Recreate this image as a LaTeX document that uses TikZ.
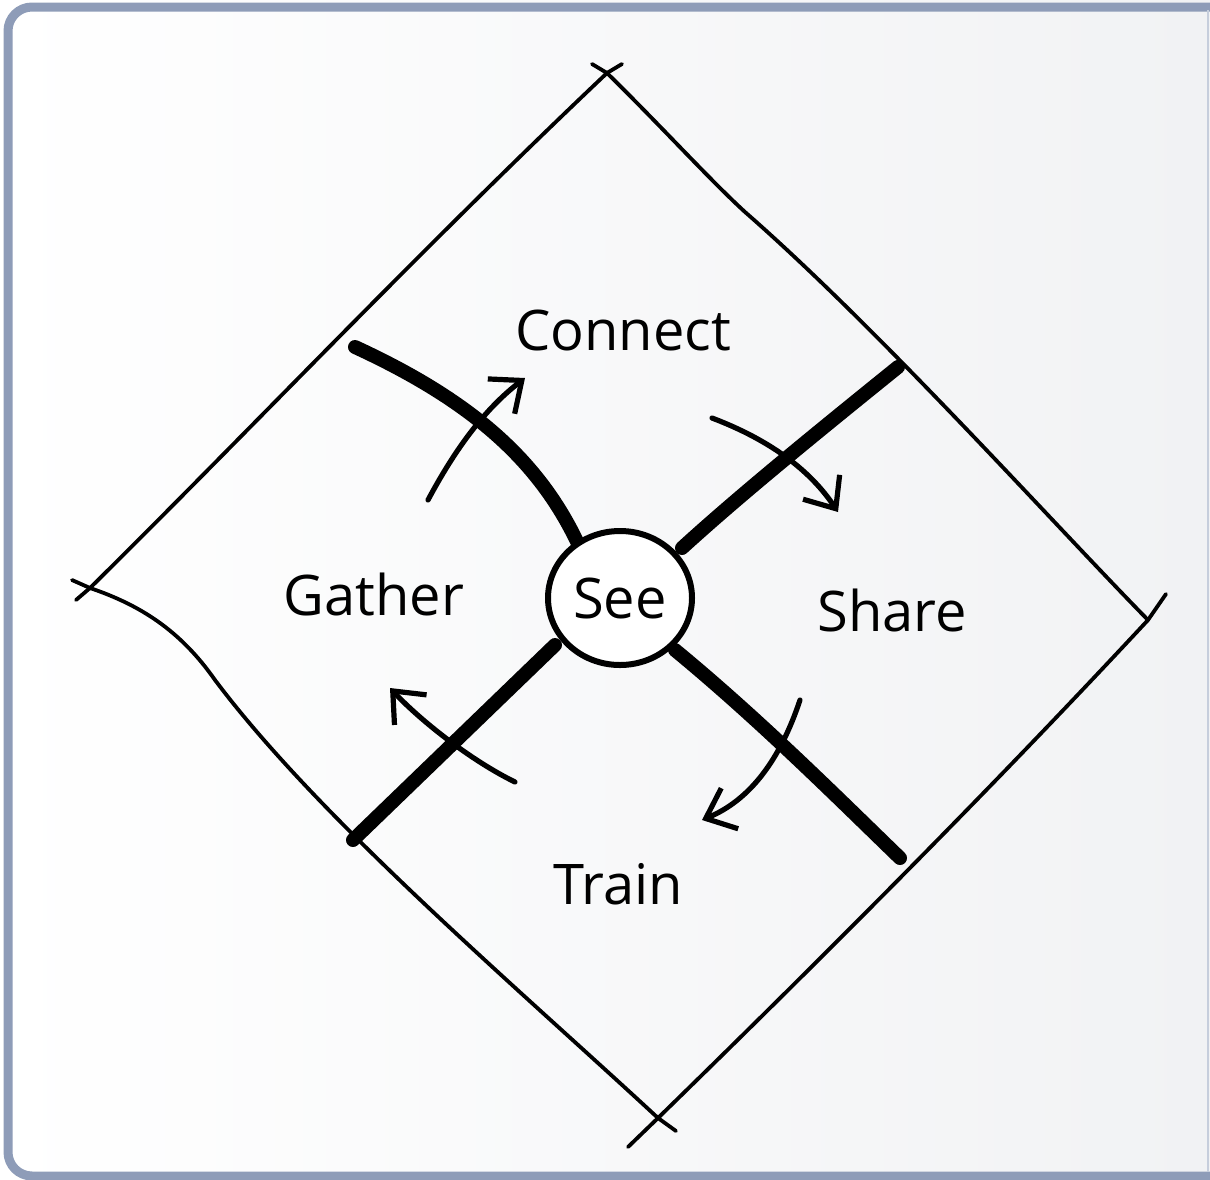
\documentclass[tikz,border=0pt]{standalone}
\usepackage{fontspec}
\setmainfont{Open Sans}
\usetikzlibrary{arrows.meta,shapes.geometric}
\definecolor{frameblue}{HTML}{8E9CB8}
\definecolor{bgright}{HTML}{F1F2F4}
\tikzset{
  edge/.style={line width=1.9pt, line cap=round, line join=round},
  arm/.style={line width=7pt, line cap=round},
  flow/.style={line width=2.6pt, line cap=round, -{Straight Barb[length=13pt,width=22pt,line width=2.6pt]}},
  lbl/.style={font=\fontsize{28}{30}\selectfont, inner sep=0pt},
  hub/.style={ellipse, draw, line width=3pt, minimum width=72pt, minimum height=67pt, inner sep=0pt, fill=white}
}
\begin{document}
\begin{tikzpicture}[x=0.5pt,y=-0.5pt]
\useasboundingbox (0,0) rectangle (1210,1179);
\begin{scope}
\clip (0,0) rectangle (1210,1179);
\shade[left color=white, right color=bgright] (0,0) rectangle (1210,1179);
\draw[frameblue, line width=4.5pt, rounded corners=12pt] (8,7) rectangle (1240,1176);
\draw[frameblue!50, line width=1pt] (1208,10) -- (1208,1172);
\end{scope}
% corners
\coordinate (T) at (607,73);
\coordinate (L) at (90,588);
\coordinate (B) at (658,1118);
\coordinate (R) at (1148,620);
% diamond edges (hand-drawn)
\draw[edge] (L) .. controls (250,430) and (420,250) .. (T) -- (622,64);
\draw[edge] (592,64) -- (T) .. controls (660,125) and (710,180) .. (745,212)
   .. controls (880,330) and (1050,520) .. (R);
\draw[edge] (72,580) -- (L) .. controls (140,605) and (180,630) .. (215,680)
   .. controls (320,820) and (520,990) .. (B) -- (676,1131);
\draw[edge] (628,1147) -- (B) .. controls (820,960) and (990,790) .. (R) -- (1166,594);
\draw[edge] (76,600) -- (L);
% arms
\draw[arm] (355,347) .. controls (470,400) and (540,460) .. (580,548);
\draw[arm] (898,367) .. controls (820,430) and (740,495) .. (682,548);
\draw[arm] (555,645) -- (353,840);
\draw[arm] (675,650) .. controls (760,720) and (840,800) .. (900,858);
% hub
\node[hub] (see) at (620,598) {};
\node[lbl] (seet) at (620,598) {See};
% labels
\node[lbl] (connect) at (623,330) {Connect};
\node[lbl] (gather) at (374,594) {Gather};
\node[lbl] (share) at (892,610) {Share};
\node[lbl] (train) at (618,884) {Train};
% flow arrows
\coordinate (c1) at (428,500); \coordinate (c2) at (525,378);
\coordinate (s1) at (712,418); \coordinate (s2) at (838,512);
\coordinate (t1) at (800,700); \coordinate (t2) at (702,820);
\coordinate (g1) at (515,782); \coordinate (g2) at (390,688);
\draw[flow] (c1) .. controls (460,440) and (490,405) .. (c2);
\draw[flow] (s1) .. controls (770,440) and (810,470) .. (s2);
\draw[flow] (t1) .. controls (780,760) and (750,800) .. (t2);
\draw[flow] (g1) .. controls (470,760) and (420,720) .. (g2);
\end{tikzpicture}
\end{document}
